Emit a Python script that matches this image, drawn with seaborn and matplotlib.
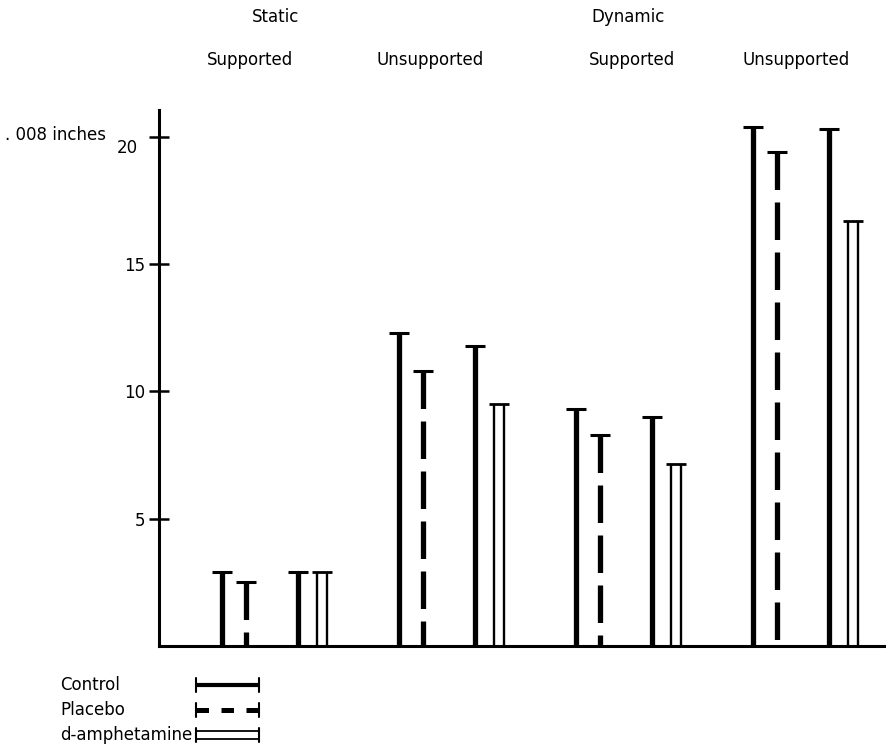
import matplotlib
matplotlib.use("Agg")
import matplotlib.pyplot as plt
import matplotlib.transforms as mtransforms
from matplotlib.lines import Line2D
import seaborn as sns
import pandas as pd

# ---- data ----
conditions = ["Static Supported", "Static Unsupported", "Dynamic Supported", "Dynamic Unsupported"]
control_a = [2.9, 12.3, 9.3, 20.4]
placebo = [2.5, 10.8, 8.3, 19.4]
control_b = [2.9, 11.8, 9.0, 20.3]
amphetamine = [2.9, 9.5, 7.15, 16.7]
y_ticks = [5, 10, 15, 20]
y_unit = ". 008 inches"

df = pd.DataFrame({"condition": conditions, "control_a": control_a, "placebo": placebo,
                   "control_b": control_b, "amphetamine": amphetamine})

sns.set_theme(style="white")
plt.rcParams["font.family"] = ["DejaVu Sans"]
plt.rcParams["lines.scale_dashes"] = False
plt.rcParams["text.color"] = "black"
plt.rcParams["ytick.color"] = "black"
plt.rcParams["ytick.labelcolor"] = "black"

W, H = 886, 748
fig = plt.figure(figsize=(W / 100, H / 100), dpi=100)
ax = fig.add_axes([159 / W, 1 - 646 / H, (884 - 159) / W, 536 / H])
ax.set_xlim(-0.356, 3.74)
ax.set_ylim(0, 21.05)

off = {"control_a": 0.0, "placebo": 0.134, "control_b": 0.43, "amphetamine": 0.565}
cap = 0.056
k = "black"
for g, row in df.iterrows():
    # control bars
    for col in ("control_a", "control_b"):
        x = g + off[col]
        ax.plot([x, x], [0, row[col]], color=k, lw=3.8, solid_capstyle="butt")
        ax.plot([x - cap, x + cap], [row[col], row[col]], color=k, lw=2.2, solid_capstyle="butt")
    # placebo (dashed)
    x = g + off["placebo"]
    ax.plot([x, x], [row["placebo"], 0], color=k, lw=3.8, dashes=(27, 9), dash_capstyle="butt")
    ax.plot([x - cap, x + cap], [row["placebo"], row["placebo"]], color=k, lw=2.2, solid_capstyle="butt")
    # amphetamine (double line)
    x = g + off["amphetamine"]
    for d in (-0.029, 0.029):
        ax.plot([x + d, x + d], [0, row["amphetamine"]], color=k, lw=1.7, solid_capstyle="butt")
    ax.plot([x - cap, x + cap], [row["amphetamine"], row["amphetamine"]], color=k, lw=2.0, solid_capstyle="butt")

sns.despine(ax=ax, top=True, right=True)
for s in ("left", "bottom"):
    ax.spines[s].set_linewidth(2.2)
    ax.spines[s].set_color(k)
ax.set_xticks([])
ax.set_yticks(y_ticks)
ax.set_yticklabels([str(t) for t in y_ticks], fontsize=12)
ax.tick_params(axis="y", direction="inout", length=14, width=1.8, colors=k, pad=3, left=True)
# the top label sits a little lower, next to the unit text
top_lab = ax.get_yticklabels()[-1]
top_lab.set_transform(top_lab.get_transform() +
                      mtransforms.ScaledTranslation(-0.07, -0.09, fig.dpi_scale_trans))
ax.set_facecolor("white")

def fx(px):
    return px / W

def fy(py):
    return 1 - py / H

fig.text(fx(5), fy(135), y_unit, fontsize=12, ha="left", va="center")

# headers
fig.text(fx(276), fy(17), "Static", fontsize=12, ha="center", va="center")
fig.text(fx(628), fy(17), "Dynamic", fontsize=12, ha="center", va="center")
for xc, lab in [(250, "Supported"), (430, "Unsupported"), (632, "Supported"), (796, "Unsupported")]:
    fig.text(fx(xc), fy(60), lab, fontsize=12, ha="center", va="center")

# legend (manual)
names = ["Control", "Placebo", "d-amphetamine"]
ys = [685, 710, 735]
x0, x1 = 196, 259
for name, yy in zip(names, ys):
    fig.text(fx(60), fy(yy), name, fontsize=12, ha="left", va="center")
    for xe in (x0, x1):
        fig.add_artist(Line2D([fx(xe), fx(xe)], [fy(yy - 7), fy(yy + 7)], color=k, lw=1.5,
                              transform=fig.transFigure))
fig.add_artist(Line2D([fx(x0), fx(x1)], [fy(ys[0]), fy(ys[0])], color=k, lw=3.0,
                      transform=fig.transFigure, solid_capstyle="butt"))
fig.add_artist(Line2D([fx(x0), fx(x1)], [fy(ys[1]), fy(ys[1])], color=k, lw=3.6,
                      dashes=(9, 9), transform=fig.transFigure, dash_capstyle="butt"))
for d in (-4, 4):
    fig.add_artist(Line2D([fx(x0), fx(x1)], [fy(ys[2] + d), fy(ys[2] + d)], color=k, lw=1.3,
                          transform=fig.transFigure, solid_capstyle="butt"))

fig.savefig("out.png", dpi=100, facecolor="white")
